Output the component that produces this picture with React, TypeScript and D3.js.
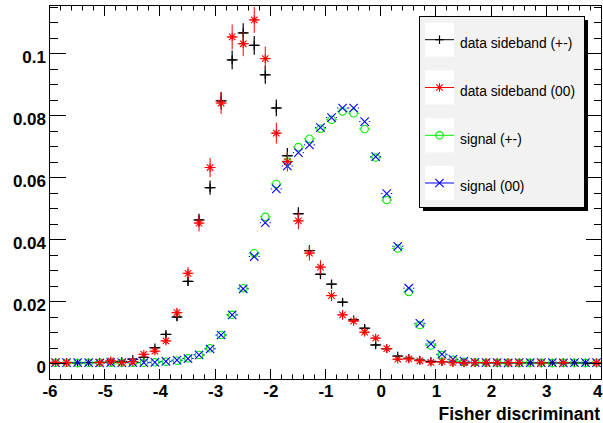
import React from "react";
import * as d3 from "d3";

const BIN_CENTERS = [
  -5.9, -5.7, -5.5, -5.3, -5.1, -4.9, -4.7, -4.5, -4.3, -4.1,
  -3.9, -3.7, -3.5, -3.3, -3.1, -2.9, -2.7, -2.5, -2.3, -2.1,
  -1.9, -1.7, -1.5, -1.3, -1.1, -0.9, -0.7, -0.5, -0.3, -0.1,
  0.1, 0.3, 0.5, 0.7, 0.9, 1.1, 1.3, 1.5, 1.7, 1.9,
  2.1, 2.3, 2.5, 2.7, 2.9, 3.1, 3.3, 3.5, 3.7, 3.9,
];
const BIN_WIDTH = 0.2;

const DATA_PM = [
  0.0002, 0.0002, 0.0001, 0.0002, 0.0003, 0.0004, 0.0006, 0.0013, 0.0019, 0.005,
  0.0093, 0.0149, 0.0264, 0.0462, 0.0566, 0.0846, 0.0978, 0.1065, 0.1025, 0.093,
  0.0823, 0.0669, 0.0482, 0.0363, 0.0287, 0.0255, 0.0197, 0.014, 0.0113, 0.0059,
  0.0047, 0.0023, 0.0016, 0.001, 0.0006, 0.0005, 0.0003, 0.0002, 0.0002, 0.0001,
  0.0001, 0.0001, 0.0001, 0.0001, 0.0001, 0.0001, 0.0001, 0.0001, 0.0001, 0.0001,
];
const DATA_PM_ERR = [
  0.00013, 0.00013, 0.0001, 0.00013, 0.00016, 0.0002, 0.00023, 0.00034, 0.0004, 0.00067,
  0.0009, 0.0012, 0.0015, 0.002, 0.0023, 0.0028, 0.003, 0.0031, 0.003, 0.0029,
  0.0027, 0.0025, 0.0021, 0.0018, 0.0016, 0.0015, 0.0013, 0.0011, 0.001, 0.0007,
  0.00065, 0.00046, 0.00038, 0.0003, 0.00023, 0.0002, 0.00016, 0.00013, 0.00013, 0.0001,
  0.0001, 0.0001, 0.0001, 0.0001, 0.0001, 0.0001, 0.0001, 0.0001, 0.0001, 0.0001,
];
const DATA_00 = [
  0.0003, 0.0002, 0, 0, 0.0002, 0.0008, 0.0002, 0.0005, 0.0029, 0.0039,
  0.0072, 0.0163, 0.029, 0.0452, 0.0631, 0.0839, 0.1052, 0.103, 0.1107, 0.0982,
  0.0742, 0.065, 0.0459, 0.0355, 0.031, 0.0218, 0.0156, 0.0136, 0.01, 0.0081,
  0.0047, 0.0013, 0.0014, 0.0008, 0.0003, 0.0005, 0.0002, 0.0001, 0.0002, 0.0002,
  0.0002, 0.0002, 0.0002, 0, 0.0001, 0, 0.0002, 0, 0, 0.0001,
];
const DATA_00_ERR = [
  0.0002, 0.00018, 0, 0, 0.00018, 0.00035, 0.00018, 0.00028, 0.00067, 0.00078,
  0.0011, 0.0016, 0.0021, 0.0027, 0.0031, 0.0036, 0.004, 0.004, 0.0042, 0.0039,
  0.0034, 0.0032, 0.0027, 0.0024, 0.0022, 0.0018, 0.0016, 0.0015, 0.0013, 0.0011,
  0.0009, 0.00045, 0.00047, 0.00035, 0.0002, 0.00028, 0.00018, 0.00013, 0.00018, 0.00018,
  0.00018, 0.00018, 0.00018, 0, 0.00013, 0, 0.00018, 0, 0, 0.00013,
];
const SIGNAL_PM = [
  0.0002, 0.0002, 0.0001, 0.0002, 0.0002, 0.0002, 0.0002, 0.0002, 0.0002, 0.0003,
  0.0005, 0.0008, 0.0016, 0.0027, 0.0048, 0.0091, 0.0156, 0.0242, 0.0355, 0.0472,
  0.0578, 0.065, 0.0697, 0.0724, 0.0756, 0.0785, 0.0812, 0.0806, 0.0755, 0.0663,
  0.0526, 0.037, 0.023, 0.0123, 0.0057, 0.0027, 0.0011, 0.0005, 0.0003, 0.0002,
  0.0002, 0.0002, 0.0001, 0.0002, 0.0002, 0.0001, 0.0002, 0.0002, 0.0001, 0.0002,
];
const SIGNAL_00 = [
  0.0002, 0.0002, 0.0002, 0.0002, 0.0001, 0.0002, 0.0002, 0.0002, 0.0002, 0.0003,
  0.0006, 0.001, 0.0015, 0.0027, 0.0046, 0.0091, 0.0156, 0.024, 0.0344, 0.0453,
  0.0562, 0.0636, 0.0679, 0.0704, 0.076, 0.0792, 0.0823, 0.0823, 0.0779, 0.0666,
  0.0547, 0.0377, 0.0242, 0.0129, 0.0062, 0.0029, 0.0013, 0.0007, 0.0003, 0.0002,
  0.0002, 0.0001, 0.0002, 0.0002, 0.0002, 0.0002, 0.0001, 0.0002, 0.0002, 0.0002,
];

const X_MAJOR_TICKS = [-6, -5, -4, -3, -2, -1, 0, 1, 2, 3, 4];
const X_TICK_LABELS = ["-6", "-5", "-4", "-3", "-2", "-1", "0", "1", "2", "3", "4"];
const Y_MAJOR_TICKS = [0, 0.02, 0.04, 0.06, 0.08, 0.1];
const Y_TICK_LABELS = ["0", "0.02", "0.04", "0.06", "0.08", "0.1"];
const LEGEND_LABELS = ["data sideband (+-)", "data sideband (00)", "signal (+-)", "signal (00)"];

const W = 603;
const H = 423;
const FRAME = { left: 50, right: 602, top: 5, bottom: 380 };

const x = d3.scaleLinear().domain([-6, 4]).range([FRAME.left, FRAME.right]);
const y = d3.scaleLinear().domain([-0.0054, 0.1155]).range([FRAME.bottom, FRAME.top]);

const BLACK = "#000000";
const RED = "#ff0000";
const GREEN = "#00ee00";
const BLUE = "#0000ff";

type MarkerKind = "plus" | "star" | "circle" | "cross";

function Marker({ kind, cx, cy, color }: { kind: MarkerKind; cx: number; cy: number; color: string }) {
  const s = 4.3;
  if (kind === "plus") {
    return (
      <g stroke={color} strokeWidth={1.2}>
        <line x1={cx - s} x2={cx + s} y1={cy} y2={cy} />
        <line x1={cx} x2={cx} y1={cy - s} y2={cy + s} />
      </g>
    );
  }
  if (kind === "star") {
    const d = s * 0.75;
    return (
      <g stroke={color} strokeWidth={1.1}>
        <line x1={cx - s} x2={cx + s} y1={cy} y2={cy} />
        <line x1={cx} x2={cx} y1={cy - s} y2={cy + s} />
        <line x1={cx - d} x2={cx + d} y1={cy - d} y2={cy + d} />
        <line x1={cx - d} x2={cx + d} y1={cy + d} y2={cy - d} />
        <circle cx={cx} cy={cy} r={1.3} fill={color} stroke="none" />
      </g>
    );
  }
  if (kind === "circle") {
    return <circle cx={cx} cy={cy} r={3.7} fill="none" stroke={color} strokeWidth={1.1} />;
  }
  const d = 4.2;
  return (
    <g stroke={color} strokeWidth={1.1}>
      <line x1={cx - d} x2={cx + d} y1={cy - d} y2={cy + d} />
      <line x1={cx - d} x2={cx + d} y1={cy + d} y2={cy - d} />
    </g>
  );
}

function Series({
  values,
  errors,
  kind,
  color,
  skipZero,
}: {
  values: number[];
  errors?: number[];
  kind: MarkerKind;
  color: string;
  skipZero?: boolean;
}) {
  const halfW = (x(BIN_WIDTH) - x(0)) / 2;
  const gap = kind === "circle" ? 3.7 : 4.2;
  return (
    <g>
      {values.map((v, i) => {
        if (skipZero && v === 0) return null;
        const cx = x(BIN_CENTERS[i]);
        const cy = y(v);
        const e = errors ? errors[i] : 0;
        const yTop = y(v + e);
        const yBot = y(v - e);
        const isData = kind === "plus" || kind === "star";
        return (
          <g key={i}>
            {isData ? (
              <g stroke={color} strokeWidth={kind === "plus" ? 1.2 : 1}>
                <line x1={cx - halfW} x2={cx + halfW} y1={cy} y2={cy} />
                <line x1={cx} x2={cx} y1={yTop} y2={yBot} />
              </g>
            ) : (
              <g stroke={color} strokeWidth={1}>
                <line x1={cx - halfW} x2={cx - gap} y1={cy} y2={cy} />
                <line x1={cx + gap} x2={cx + halfW} y1={cy} y2={cy} />
              </g>
            )}
            <Marker kind={kind} cx={cx} cy={cy} color={color} />
          </g>
        );
      })}
    </g>
  );
}

export default function App() {
  const xMinor = d3.range(-6, 4.0001, 0.2);
  const yMinor = d3.range(-0.005, 0.1151, 0.005);
  const font = "'Liberation Sans', Arial, Helvetica, sans-serif";

  const legend = { x: 419, y: 16, w: 165, h: 191 };
  const entryCenters = [39.7, 87.5, 135.3, 183];
  const entryKinds: MarkerKind[] = ["plus", "star", "circle", "cross"];
  const entryColors = [BLACK, RED, GREEN, BLUE];

  return (
    <svg
      width={W}
      height={H}
      style={{ position: "absolute", left: 0, top: 0, background: "#fff" }}
      fontFamily={font}
    >
      <rect x={0} y={0} width={W} height={H} fill="#fff" />

      <Series values={DATA_PM} errors={DATA_PM_ERR} kind="plus" color={BLACK} skipZero />
      <Series values={SIGNAL_PM} kind="circle" color={GREEN} />
      <Series values={SIGNAL_00} kind="cross" color={BLUE} />
      <Series values={DATA_00} errors={DATA_00_ERR} kind="star" color={RED} skipZero />

      {/* frame */}
      <rect
        x={FRAME.left - 0.5}
        y={FRAME.top + 0.5}
        width={FRAME.right - FRAME.left}
        height={FRAME.bottom - FRAME.top - 1}
        fill="none"
        stroke="#000"
        strokeWidth={1}
      />

      {/* x ticks */}
      <g stroke="#000" strokeWidth={1}>
        {xMinor.map((t, i) => {
          const major = Math.abs(t - Math.round(t)) < 1e-6;
          const len = major ? 11 : 5.5;
          const px = Math.round(x(t)) - 0.5;
          return (
            <g key={i}>
              <line x1={px} x2={px} y1={FRAME.bottom} y2={FRAME.bottom - len} />
              <line x1={px} x2={px} y1={FRAME.top} y2={FRAME.top + len} />
            </g>
          );
        })}
      </g>
      {/* y ticks */}
      <g stroke="#000" strokeWidth={1}>
        {yMinor.map((t, i) => {
          const major = Math.abs(t / 0.02 - Math.round(t / 0.02)) < 1e-6;
          const len = major ? 16 : 8;
          const py = Math.round(y(t)) + 0.5;
          return (
            <g key={i}>
              <line x1={FRAME.left} x2={FRAME.left + len} y1={py} y2={py} />
              <line x1={FRAME.right} x2={FRAME.right - len} y1={py} y2={py} />
            </g>
          );
        })}
      </g>

      {/* tick labels */}
      <g fontSize={17} fontWeight="bold" fill="#000">
        {Y_MAJOR_TICKS.map((t, i) => (
          <text key={i} x={46} y={y(t) + 10.2} textAnchor="end">
            {Y_TICK_LABELS[i]}
          </text>
        ))}
        {X_MAJOR_TICKS.map((t, i) => {
          const last = i === X_MAJOR_TICKS.length - 1;
          return (
            <text
              key={i}
              x={last ? W - 0.5 : x(t)}
              y={397}
              textAnchor={last ? "end" : "middle"}
            >
              {X_TICK_LABELS[i]}
            </text>
          );
        })}
      </g>
      <text x={600} y={420} textAnchor="end" fontSize={17.5} fontWeight="bold" fill="#000">
        Fisher discriminant
      </text>

      {/* legend */}
      <rect x={legend.x + 4} y={legend.y + 4} width={legend.w} height={legend.h} fill="#000" />
      <rect
        x={legend.x + 0.5}
        y={legend.y + 0.5}
        width={legend.w}
        height={legend.h}
        fill="#f2f2f2"
        stroke="#000"
        strokeWidth={1}
      />
      {LEGEND_LABELS.map((label, i) => {
        const cy = entryCenters[i];
        return (
          <g key={i}>
            <rect x={425} y={cy - 17} width={29} height={34} fill="#fff" />
            <line x1={425} x2={454} y1={cy} y2={cy} stroke={entryColors[i]} strokeWidth={1} />
            <Marker kind={entryKinds[i]} cx={439.5} cy={cy} color={entryColors[i]} />
            <text x={460} y={cy + 8.3} fontSize={13.8} fill="#000">
              {label}
            </text>
          </g>
        );
      })}
    </svg>
  );
}
